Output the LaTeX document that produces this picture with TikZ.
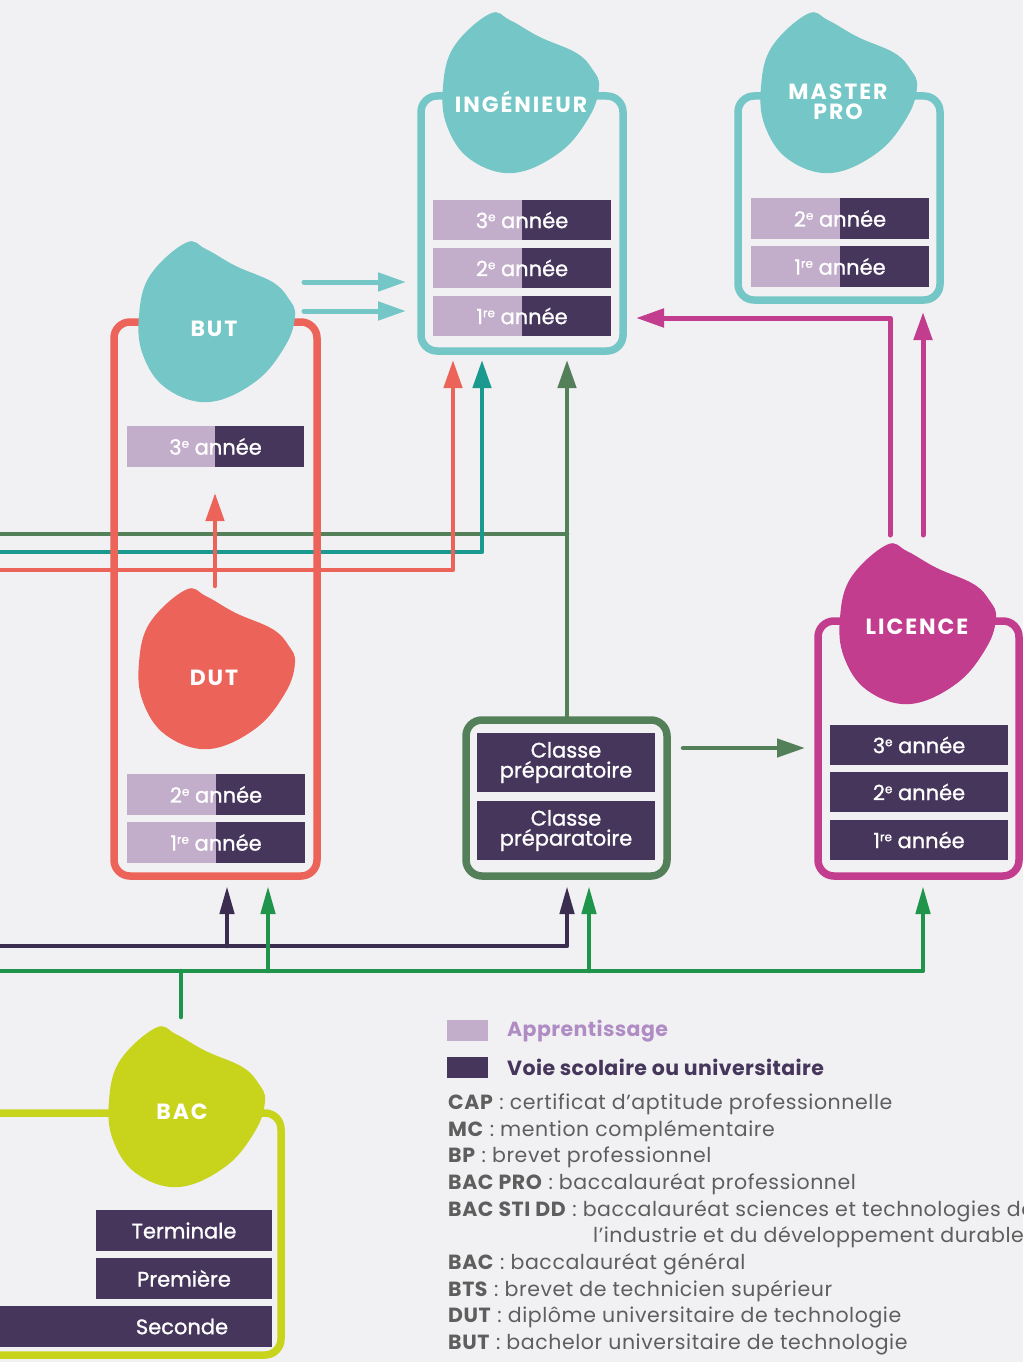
\documentclass[tikz,border=0pt]{standalone}
\usepackage{fontspec}
\setmainfont{Poppins}
\newfontfamily\barfont[FakeBold=1.1]{Poppins}
\newfontfamily\labfont[LetterSpace=9]{Poppins}
\newfontfamily\deffont[LetterSpace=2.8]{Poppins}
\newfontfamily\legfont[LetterSpace=2]{Poppins}
\usetikzlibrary{arrows.meta}
\definecolor{bg}{HTML}{F1F1F3}
\definecolor{tealblob}{HTML}{75C6C6}
\definecolor{coral}{HTML}{EC635A}
\definecolor{lilac}{HTML}{C2ADCA}
\definecolor{dpurple}{HTML}{46365C}
\definecolor{olive}{HTML}{548059}
\definecolor{tealline}{HTML}{1A9A8E}
\definecolor{mag}{HTML}{C33D8F}
\definecolor{bgreen}{HTML}{1F944B}
\definecolor{lime}{HTML}{C8D41C}
\definecolor{navy}{HTML}{3A2D50}
\definecolor{legtxt}{HTML}{5E5E5E}
\definecolor{apprtxt}{HTML}{B08CC4}
\newcommand\expo[1]{\raisebox{0.6ex}{\fontsize{12}{12}\selectfont #1}}
\tikzset{
 framebox/.style={draw, line width=7.5pt, rounded corners=16pt, inner sep=0pt, outer sep=0pt},
 bartext/.style={text=white, font=\barfont\fontsize{21}{21}\selectfont, inner sep=0pt},
 blobtext/.style={text=white, font=\labfont\bfseries\fontsize{22}{20}\selectfont, align=center, inner sep=0pt},
 conn/.style={line width=4.5pt, line cap=round, line join=round},
 arrowtip/.style={-{Triangle[length=28pt,width=18pt]}},
 smalltip/.style={-{Triangle[length=28pt,width=14pt]}},
 deftext/.style={anchor=base west, inner sep=0pt, text=legtxt, font=\deffont\fontsize{20.5}{20}\selectfont},
}
\newcommand\blobat[3]{%
 \begin{scope}[xshift=#1pt, yshift=-#2pt, x=78pt, y=-80pt]
  \fill[#3] plot[smooth cycle, tension=0.65] coordinates {(-0.40,-0.99) (-0.14,-0.91) (0.24,-0.70) (0.71,-0.50) (0.92,-0.29) (1.0,-0.08) (0.88,0.29) (0.50,0.74) (-0.10,1.0) (-0.65,0.83) (-0.95,0.41) (-1.0,-0.08) (-0.86,-0.58)};
 \end{scope}}
\newcommand\sbar[7]{%
 \fill[lilac] (#2,#3) rectangle (#6,#5);
 \fill[dpurple] (#6,#3) rectangle (#4,#5);
 \node[bartext] (#1) at ({(#2+#4)/2},{(#3+#5)/2}) {#7};}
\newcommand\dbar[6]{%
 \fill[dpurple] (#2,#3) rectangle (#4,#5);
 \node[bartext, align=center, font=\barfont\fontsize{21}{20}\selectfont] (#1) at ({(#2+#4)/2},{(#3+#5)/2}) {#6};}
\begin{document}
\begin{tikzpicture}[x=1pt,y=-1pt]
\fill[bg] (0,0) rectangle (1023,1362);
\useasboundingbox (0,0) rectangle (1023,1362);

% coordinates for connectors
\coordinate (ta1) at (304,282); \coordinate (tb1) at (406,282);
\coordinate (ta2) at (304,311); \coordinate (tb2) at (406,311);
\coordinate (dutTop) at (215,586); \coordinate (butBot) at (215,493);
\coordinate (oL) at (-3,534); \coordinate (oJ) at (567,534); \coordinate (oS) at (567,716); \coordinate (oT) at (567,360);
\coordinate (tL) at (-3,552); \coordinate (tC) at (482,552); \coordinate (tT) at (482,360);
\coordinate (cL) at (-3,570); \coordinate (cC) at (453,570); \coordinate (cT) at (453,360);
\coordinate (m1S) at (890,535); \coordinate (m1C) at (890,318); \coordinate (m1T) at (636,318);
\coordinate (m2S) at (923,535); \coordinate (m2T) at (923,312);
\coordinate (clS) at (683,748); \coordinate (clT) at (805,748);
\coordinate (nL) at (-3,946); \coordinate (nC) at (567,946); \coordinate (nT2) at (567,886);
\coordinate (nJ) at (227,946); \coordinate (nT1) at (227,886);
\coordinate (gS) at (181,1017); \coordinate (gJ) at (181,971);
\coordinate (gL) at (-3,971); \coordinate (gC) at (923,971); \coordinate (gT3) at (923,886);
\coordinate (gJ1) at (268,971); \coordinate (gT1) at (268,886);
\coordinate (gJ2) at (589,971); \coordinate (gT2) at (589,886);

% connectors
\draw[conn, olive] (oL) -- (oJ);
\draw[conn, olive, arrowtip] (oS) -- (oT);
\draw[conn, tealline, arrowtip] (tL) -- (tC) -- (tT);
\draw[conn, coral, arrowtip] (cL) -- (cC) -- (cT);
\draw[conn, line width=5pt, tealblob, arrowtip] (ta1) -- (tb1);
\draw[conn, line width=5pt, tealblob, arrowtip] (ta2) -- (tb2);
\draw[conn, coral, arrowtip] (dutTop) -- (butBot);
\draw[conn, line width=5pt, mag, arrowtip] (m1S) -- (m1C) -- (m1T);
\draw[conn, line width=5pt, mag, arrowtip] (m2S) -- (m2T);
\draw[conn, olive, arrowtip] (clS) -- (clT);
\draw[conn, navy, smalltip] (nL) -- (nC) -- (nT2);
\draw[conn, navy, smalltip] (nJ) -- (nT1);
\draw[conn, bgreen] (gS) -- (gJ);
\draw[conn, bgreen, smalltip] (gL) -- (gC) -- (gT3);
\draw[conn, bgreen, smalltip] (gJ1) -- (gT1);
\draw[conn, bgreen, smalltip] (gJ2) -- (gT2);

% frames
\node[framebox, draw=tealblob, minimum width=202pt, minimum height=255pt] (ingbox) at (522,223.5) {};
\node[framebox, draw=tealblob, minimum width=202pt, minimum height=204pt] (masterbox) at (839,198) {};
\node[framebox, draw=coral, minimum width=203pt, minimum height=554pt] (butbox) at (215.5,599) {};
\node[framebox, draw=olive, minimum width=201pt, minimum height=156pt] (classebox) at (566.5,798) {};
\node[framebox, draw=mag, minimum width=201pt, minimum height=255pt] (licbox) at (918.5,748.5) {};
\draw[line width=7.5pt, lime, rounded corners=16pt] (-5,1113) -- (281,1113) -- (281,1355) -- (-5,1355);

% blobs
\blobat{217}{322}{tealblob}
\blobat{521}{93}{tealblob}
\blobat{839}{93}{tealblob}
\blobat{217}{669}{coral}
\blobat{918}{624}{mag}
\blobat{187}{1107}{lime}
\node[blobtext] (butlbl) at (214,329) {BUT};
\node[blobtext] (inglbl) at (521,102) {INGÉNIEUR};
\node[blobtext] (masterlbl) at (838,102) {MASTER\\PRO};
\node[blobtext] (dutlbl) at (214,678) {DUT};
\node[blobtext] (liclbl) at (917,627) {LICENCE};
\node[blobtext] (baclbl) at (182,1112) {BAC};

% bars
\sbar{ing3}{433}{200}{611}{240}{522}{3\expo{e} année}
\sbar{ing2}{433}{248}{611}{288}{522}{2\expo{e} année}
\sbar{ing1}{433}{296}{611}{336}{522}{1\expo{re} année}
\sbar{mas2}{751}{198}{929}{239}{840}{2\expo{e} année}
\sbar{mas1}{751}{246}{929}{287}{840}{1\expo{re} année}
\sbar{but3}{127}{426}{304}{467}{215}{3\expo{e} année}
\sbar{dut2}{127}{774}{305}{815}{216}{2\expo{e} année}
\sbar{dut1}{127}{822}{305}{863}{216}{1\expo{re} année}
\dbar{cp2}{477}{733}{655}{792}{Classe\\préparatoire}
\dbar{cp1}{477}{801}{655}{860}{Classe\\préparatoire}
\dbar{lic3}{830}{725}{1008}{765}{3\expo{e} année}
\dbar{lic2}{830}{772}{1008}{812}{2\expo{e} année}
\dbar{lic1}{830}{820}{1008}{860}{1\expo{re} année}
\fill[dpurple] (96,1210) rectangle (272,1251);
\node[bartext] (term) at (184,1230.5) {Terminale};
\fill[dpurple] (96,1258) rectangle (272,1299);
\node[bartext] (prem) at (184,1278.5) {Première};
\fill[dpurple] (-2,1306) rectangle (272,1347);
\node[bartext] (sec) at (182,1326.5) {Seconde};

% legend
\fill[lilac] (447,1020) rectangle (488,1041);
\node[anchor=west, inner sep=0pt, text=apprtxt, font=\legfont\bfseries\fontsize{20.5}{20}\selectfont] (lgA) at (507,1031) {Apprentissage};
\fill[dpurple] (447,1057) rectangle (488,1078);
\node[anchor=west, inner sep=0pt, text=dpurple, font=\legfont\bfseries\fontsize{20.5}{20}\selectfont] (lgV) at (507,1067) {Voie scolaire ou universitaire};
\node[deftext] (d1) at (448,1109) {\textbf{CAP} : certificat d’aptitude professionnelle};
\node[deftext] (d2) at (448,1136) {\textbf{MC} : mention complémentaire};
\node[deftext] (d3) at (448,1162) {\textbf{BP} : brevet professionnel};
\node[deftext] (d4) at (448,1189) {\textbf{BAC PRO} : baccalauréat professionnel};
\node[deftext] (d5) at (448,1216) {\textbf{BAC STI DD} : baccalauréat sciences et technologies de};
\node[deftext] (d5b) at (593,1242) {l’industrie et du développement durable};
\node[deftext] (d6) at (448,1269) {\textbf{BAC} : baccalauréat général};
\node[deftext] (d7) at (448,1296) {\textbf{BTS} : brevet de technicien supérieur};
\node[deftext] (d8) at (448,1322) {\textbf{DUT} : diplôme universitaire de technologie};
\node[deftext] (d9) at (448,1349) {\textbf{BUT} : bachelor universitaire de technologie};
\end{tikzpicture}
\end{document}
